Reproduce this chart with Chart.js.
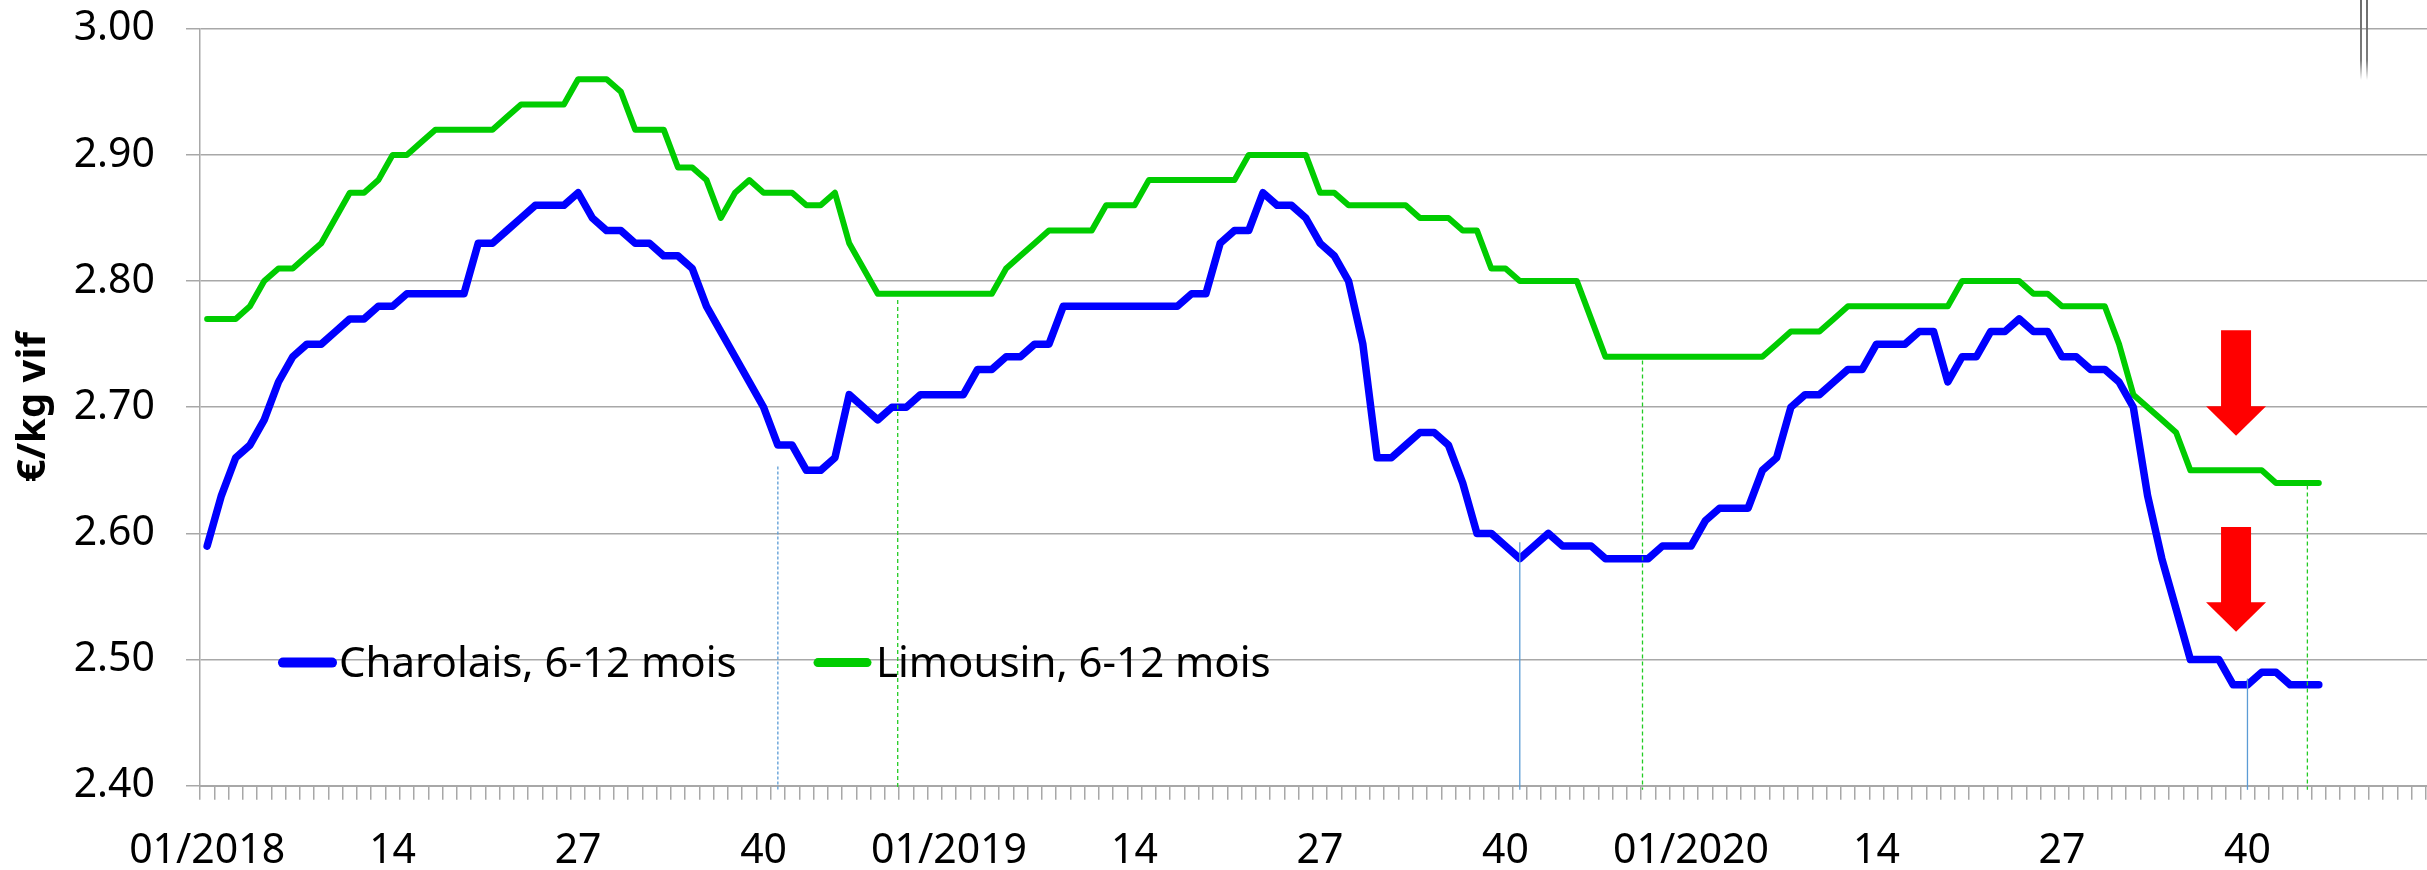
<!DOCTYPE html>
<html>
<head>
<meta charset="utf-8">
<script src="https://cdn.jsdelivr.net/npm/chart.js@4.4.0/dist/chart.umd.min.js"></script>
<style>
html, body { margin: 0; padding: 0; background: #fff; overflow: hidden; }
#wrap { width: 2427px; height: 870px; overflow: hidden; }
</style>
</head>
<body>
<div id="wrap"><canvas id="myChart" width="2460" height="870"></canvas></div>
<script>
// weekly price, 01/2018 -> 45/2020
var years = [2018, 2019, 2020];
var weeksInYear = [52, 52, 53];
var shownWeeks = [1, 14, 27, 40];

var seriesNames = ['Charolais, 6-12 mois', 'Limousin, 6-12 mois'];

var charolais = [
    2.59, 2.63, 2.66, 2.67, 2.69, 2.72, 2.74, 2.75, 2.75, 2.76, 2.77, 2.77, 2.78,
    2.78, 2.79, 2.79, 2.79, 2.79, 2.79, 2.83, 2.83, 2.84, 2.85, 2.86, 2.86, 2.86,
    2.87, 2.85, 2.84, 2.84, 2.83, 2.83, 2.82, 2.82, 2.81, 2.78, 2.76, 2.74, 2.72,
    2.70, 2.67, 2.67, 2.65, 2.65, 2.66, 2.71, 2.70, 2.69, 2.70, 2.70, 2.71, 2.71,
    2.71, 2.71, 2.73, 2.73, 2.74, 2.74, 2.75, 2.75, 2.78, 2.78, 2.78, 2.78, 2.78,
    2.78, 2.78, 2.78, 2.78, 2.79, 2.79, 2.83, 2.84, 2.84, 2.87, 2.86, 2.86, 2.85,
    2.83, 2.82, 2.80, 2.75, 2.66, 2.66, 2.67, 2.68, 2.68, 2.67, 2.64, 2.60, 2.60,
    2.59, 2.58, 2.59, 2.60, 2.59, 2.59, 2.59, 2.58, 2.58, 2.58, 2.58, 2.59, 2.59,
    2.59, 2.61, 2.62, 2.62, 2.62, 2.65, 2.66, 2.70, 2.71, 2.71, 2.72, 2.73, 2.73,
    2.75, 2.75, 2.75, 2.76, 2.76, 2.72, 2.74, 2.74, 2.76, 2.76, 2.77, 2.76, 2.76,
    2.74, 2.74, 2.73, 2.73, 2.72, 2.70, 2.63, 2.58, 2.54, 2.50, 2.50, 2.50, 2.48,
    2.48, 2.49, 2.49, 2.48, 2.48, 2.48
];

var limousin = [
    2.77, 2.77, 2.77, 2.78, 2.80, 2.81, 2.81, 2.82, 2.83, 2.85, 2.87, 2.87, 2.88,
    2.90, 2.90, 2.91, 2.92, 2.92, 2.92, 2.92, 2.92, 2.93, 2.94, 2.94, 2.94, 2.94,
    2.96, 2.96, 2.96, 2.95, 2.92, 2.92, 2.92, 2.89, 2.89, 2.88, 2.85, 2.87, 2.88,
    2.87, 2.87, 2.87, 2.86, 2.86, 2.87, 2.83, 2.81, 2.79, 2.79, 2.79, 2.79, 2.79,
    2.79, 2.79, 2.79, 2.79, 2.81, 2.82, 2.83, 2.84, 2.84, 2.84, 2.84, 2.86, 2.86,
    2.86, 2.88, 2.88, 2.88, 2.88, 2.88, 2.88, 2.88, 2.90, 2.90, 2.90, 2.90, 2.90,
    2.87, 2.87, 2.86, 2.86, 2.86, 2.86, 2.86, 2.85, 2.85, 2.85, 2.84, 2.84, 2.81,
    2.81, 2.80, 2.80, 2.80, 2.80, 2.80, 2.77, 2.74, 2.74, 2.74, 2.74, 2.74, 2.74,
    2.74, 2.74, 2.74, 2.74, 2.74, 2.74, 2.75, 2.76, 2.76, 2.76, 2.77, 2.78, 2.78,
    2.78, 2.78, 2.78, 2.78, 2.78, 2.78, 2.80, 2.80, 2.80, 2.80, 2.80, 2.79, 2.79,
    2.78, 2.78, 2.78, 2.78, 2.75, 2.71, 2.70, 2.69, 2.68, 2.65, 2.65, 2.65, 2.65,
    2.65, 2.65, 2.64, 2.64, 2.64, 2.64
];

// vertical marker lines (week index from 01/2018, top value)
var blueMarkWeeks = [40, 92, 143];
var blueMarkTops = [2.653, 2.593, 2.485];
var greenMarkWeeks = [48.4, 100.6, 147.2];
var greenMarkTops = [2.785, 2.737, 2.638];

// red arrows (week index, top value, tip value)
var arrowWeeks = [142.2, 142.2];
var arrowTops = [2.761, 2.605];
var arrowTips = [2.6775, 2.522];

var weekLabels = [];
years.forEach(function(y, k){
    for (var w = 1; w <= weeksInYear[k]; w++) {
        weekLabels.push((w < 10 ? '0' : '') + w + '/' + y);
    }
});

var fontFam = "'Noto Sans', 'DejaVu Sans', sans-serif";
var gridCol = '#a8a8a8';

var marksPlugin = {
    id: 'marks',
    afterDatasetsDraw: function(c) {
        var ctx = c.ctx, xs = c.scales.x, ys = c.scales.y;
        var base = ys.getPixelForValue(2.40) + 4;
        ctx.save();
        blueMarkWeeks.forEach(function(w, k){
            var x = xs.getPixelForValue(w);
            ctx.beginPath();
            ctx.strokeStyle = '#5b9bd5';
            ctx.lineWidth = 1.3;
            ctx.setLineDash(k === 0 ? [3, 2] : []);
            ctx.moveTo(x, ys.getPixelForValue(blueMarkTops[k]));
            ctx.lineTo(x, base);
            ctx.stroke();
        });
        greenMarkWeeks.forEach(function(w, k){
            var x = xs.getPixelForValue(w);
            ctx.beginPath();
            ctx.strokeStyle = '#22cc22';
            ctx.lineWidth = 1.3;
            ctx.setLineDash([4, 3]);
            ctx.moveTo(x, ys.getPixelForValue(greenMarkTops[k]));
            ctx.lineTo(x, base);
            ctx.stroke();
        });
        ctx.setLineDash([]);

        // arrows
        ctx.fillStyle = '#ff0000';
        arrowWeeks.forEach(function(w, k){
            var x = xs.getPixelForValue(w);
            var yt = ys.getPixelForValue(arrowTops[k]);
            var yp = ys.getPixelForValue(arrowTips[k]);
            var hb = yp - 29.5;
            ctx.beginPath();
            ctx.moveTo(x - 15, yt);
            ctx.lineTo(x + 15, yt);
            ctx.lineTo(x + 15, hb);
            ctx.lineTo(x + 30, hb);
            ctx.lineTo(x, yp);
            ctx.lineTo(x - 30, hb);
            ctx.lineTo(x - 15, hb);
            ctx.closePath();
            ctx.fill();
        });

        // legend inside the plot, on the 2.50 line
        var ly = ys.getPixelForValue(2.50);
        var left = c.chartArea.left;
        var items = [
            {x0: left + 83, x1: left + 132, tx: left + 139, col: '#0000ff', w: 10},
            {x0: left + 618, x1: left + 667, tx: left + 676, col: '#00cc00', w: 9}
        ];
        items.forEach(function(it, k){
            ctx.beginPath();
            ctx.strokeStyle = it.col;
            ctx.lineWidth = it.w;
            ctx.lineCap = 'round';
            ctx.moveTo(it.x0, ly + 3);
            ctx.lineTo(it.x1, ly + 3);
            ctx.stroke();
            ctx.fillStyle = '#000';
            ctx.font = '42px ' + fontFam;
            ctx.textBaseline = 'alphabetic';
            ctx.textAlign = 'left';
            ctx.fillText(seriesNames[k], it.tx, ly + 17);
        });

        // grey double bar top right
        [2361, 2367].forEach(function(x){
            var g = ctx.createLinearGradient(0, 0, 0, 80);
            g.addColorStop(0, 'rgba(110,110,110,1)');
            g.addColorStop(0.75, 'rgba(110,110,110,0.9)');
            g.addColorStop(1, 'rgba(110,110,110,0)');
            ctx.strokeStyle = g;
            ctx.lineWidth = 2;
            ctx.beginPath();
            ctx.moveTo(x, 0);
            ctx.lineTo(x, 80);
            ctx.stroke();
        });
        ctx.restore();
    }
};

var ctx = document.getElementById('myChart').getContext('2d');
var chart = new Chart(ctx, {
    type: 'line',
    data: {
        labels: weekLabels,
        datasets: [{
            label: seriesNames[0],
            data: charolais,
            borderColor: '#0000ff',
            backgroundColor: '#0000ff',
            borderWidth: 7.5,
            pointRadius: 0,
            tension: 0,
            fill: false,
            borderJoinStyle: 'round',
            borderCapStyle: 'round'
        }, {
            label: seriesNames[1],
            data: limousin,
            borderColor: '#00cc00',
            backgroundColor: '#00cc00',
            borderWidth: 6,
            pointRadius: 0,
            tension: 0,
            fill: false,
            borderJoinStyle: 'round',
            borderCapStyle: 'round'
        }]
    },
    options: {
        responsive: false,
        animation: false,
        layout: {
            padding: {left: 0, top: 28.7, right: 2460 - 2443.2, bottom: 0}
        },
        scales: {
            x: {
                offset: true,
                grid: {
                    offset: true,
                    drawOnChartArea: false,
                    drawTicks: true,
                    tickLength: 14,
                    color: gridCol,
                    lineWidth: 1.5
                },
                border: {color: gridCol, width: 2},
                ticks: {
                    autoSkip: false,
                    maxRotation: 0,
                    minRotation: 0,
                    padding: 27,
                    color: '#000',
                    font: {family: fontFam, size: 41, lineHeight: 1.2},
                    callback: function(val, i){
                        var lab = weekLabels[i];
                        var w = parseInt(lab, 10);
                        if (w === 1) return lab;
                        if (shownWeeks.indexOf(w) >= 0) return String(w);
                        return '';
                    }
                },
                afterFit: function(s){ s.height = 870 - 785.8; }
            },
            y: {
                min: 2.4,
                max: 3.0,
                grid: {
                    color: gridCol,
                    lineWidth: 1.5,
                    tickLength: 14
                },
                border: {color: gridCol, width: 1.5},
                ticks: {
                    stepSize: 0.1,
                    padding: 31,
                    color: '#000',
                    font: {family: fontFam, size: 41, lineHeight: 1.0},
                    callback: function(v){ return v.toFixed(2); }
                },
                title: {
                    display: true,
                    text: '€/kg vif',
                    color: '#000',
                    font: {family: fontFam, size: 40, weight: 'bold', lineHeight: 1.2},
                    padding: {top: 10, bottom: 0}
                },
                afterFit: function(s){
                    s.width = 200;
                    s.paddingTop = 0;
                    s.paddingBottom = 0;
                }
            }
        },
        plugins: {
            legend: {display: false},
            tooltip: {enabled: false}
        }
    },
    plugins: [marksPlugin]
});
</script>
</body>
</html>
